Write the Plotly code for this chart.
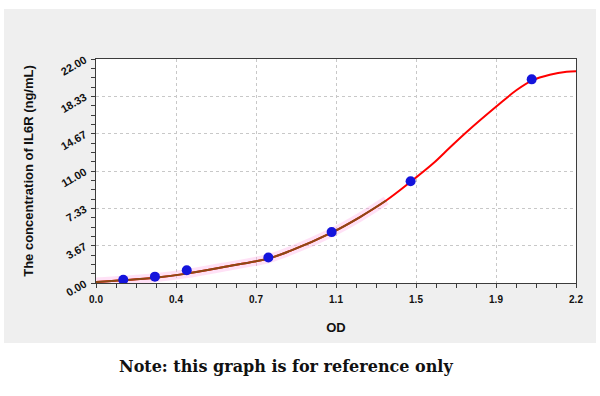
import numpy as np
import plotly.graph_objects as go

# Standard points (OD vs concentration)
std_od = [0.125, 0.270, 0.416, 0.790, 1.080, 1.442, 1.997]
std_conc = [0.3125, 0.625, 1.25, 2.5, 5.0, 10.0, 20.0]

# Fitted curve
curve_od = [0.00, 0.125, 0.27, 0.416, 0.58, 0.79, 0.89, 1.08, 1.21, 1.33, 1.44,
            1.546, 1.622, 1.70, 1.836, 1.928, 2.00, 2.08, 2.157, 2.20]
curve_conc = [0.10, 0.27, 0.52, 0.92, 1.55, 2.40, 3.15, 4.95, 6.48, 8.1, 9.9,
              11.75, 13.3, 14.85, 17.35, 18.95, 19.9, 20.45, 20.75, 20.8]
brown_end = 10  # index up to which the fit is drawn dark (first part of curve)

x_ticks = ["0.0", "0.4", "0.7", "1.1", "1.5", "1.9", "2.2"]
y_ticks = ["0.00", "3.67", "7.33", "11.00", "14.67", "18.33", "22.00"]
x_max, y_max = 2.2, 22.0

x_tickvals = np.linspace(0, x_max, len(x_ticks))
y_tickvals = np.linspace(0, y_max, len(y_ticks))
x_minor = np.linspace(0, x_max, 4 * (len(x_ticks) - 1) + 1)
y_minor = np.linspace(0, y_max, 4 * (len(y_ticks) - 1) + 1)

FONT = "Arial, 'Liberation Sans', sans-serif"

fig = go.Figure()
# soft pink glow along lower part
fig.add_trace(go.Scatter(x=curve_od[:brown_end], y=curve_conc[:brown_end], mode="lines",
                         line=dict(color="rgba(255,170,230,0.35)", width=9, shape="spline"),
                         hoverinfo="skip", showlegend=False))
fig.add_trace(go.Scatter(x=curve_od, y=curve_conc, mode="lines",
                         line=dict(color="#ff0000", width=2, shape="spline"),
                         showlegend=False))
fig.add_trace(go.Scatter(x=curve_od[:brown_end], y=curve_conc[:brown_end], mode="lines",
                         line=dict(color="#8a4a16", width=2, shape="spline"),
                         showlegend=False))
fig.add_trace(go.Scatter(x=std_od, y=std_conc, mode="markers",
                         marker=dict(color="#1414dc", size=10, line=dict(width=0)),
                         showlegend=False))

axis_common = dict(
    showline=True, linecolor="#3c3c3c", linewidth=1, mirror=True,
    ticks="outside", ticklen=4, tickcolor="#3c3c3c",
    showgrid=True, gridcolor="#c8c8c8", griddash="dot", gridwidth=1,
    zeroline=False,
)

fig.update_xaxes(range=[0, x_max], tickmode="array", tickvals=x_tickvals, ticktext=[f"<b>{t}</b>" for t in x_ticks],
                 tickfont=dict(family=FONT, size=10, color="#111111"), ticklabelstandoff=3,
                 minor=dict(tickmode="array", tickvals=x_minor, ticks="outside", ticklen=4, tickcolor="#3c3c3c", showgrid=False),
                 title=dict(text="<b>OD</b>", font=dict(family=FONT, size=13, color="#111111"), standoff=18),
                 **axis_common)
fig.update_yaxes(range=[0, y_max], tickmode="array", tickvals=y_tickvals, ticktext=[f"<b>{t}</b>" for t in y_ticks],
                 tickangle=-30, tickfont=dict(family=FONT, size=11, color="#111111"), ticklabelstandoff=4,
                 minor=dict(tickmode="array", tickvals=y_minor, ticks="outside", ticklen=4, tickcolor="#3c3c3c", showgrid=False),
                 title=dict(text="<b>The concentration of IL6R (ng/mL)</b>", font=dict(family=FONT, size=13, color="#111111"), standoff=22),
                 **axis_common)

L, R, T, B = 96, 24, 59, 113
W, H = 600, 396
pw, ph = W - L - R, H - T - B

def px_x(p):
    return (p - L) / pw

def px_y(p):
    return (H - B - p) / ph

fig.add_shape(type="rect", xref="paper", yref="paper", layer="below",
              x0=px_x(4), x1=px_x(596), y0=px_y(343), y1=px_y(9),
              fillcolor="#efefef", line=dict(width=0))
fig.add_shape(type="rect", xref="paper", yref="paper", layer="below",
              x0=0, x1=1, y0=0, y1=1, fillcolor="#ffffff", line=dict(width=0))

fig.add_annotation(text="<b>Note: this graph is for reference only</b>", xref="paper", yref="paper",
                   x=px_x(286), y=px_y(366), showarrow=False, xanchor="center", yanchor="middle",
                   font=dict(family="'DejaVu Serif', serif", size=16, color="#111111"))

fig.update_layout(width=W, height=H, margin=dict(l=L, r=R, t=T, b=B, autoexpand=False),
                  paper_bgcolor="#ffffff", plot_bgcolor="#ffffff", showlegend=False)

fig.write_html("out.html", config={"displayModeBar": False},
               post_script="document.body.style.margin='0';")
